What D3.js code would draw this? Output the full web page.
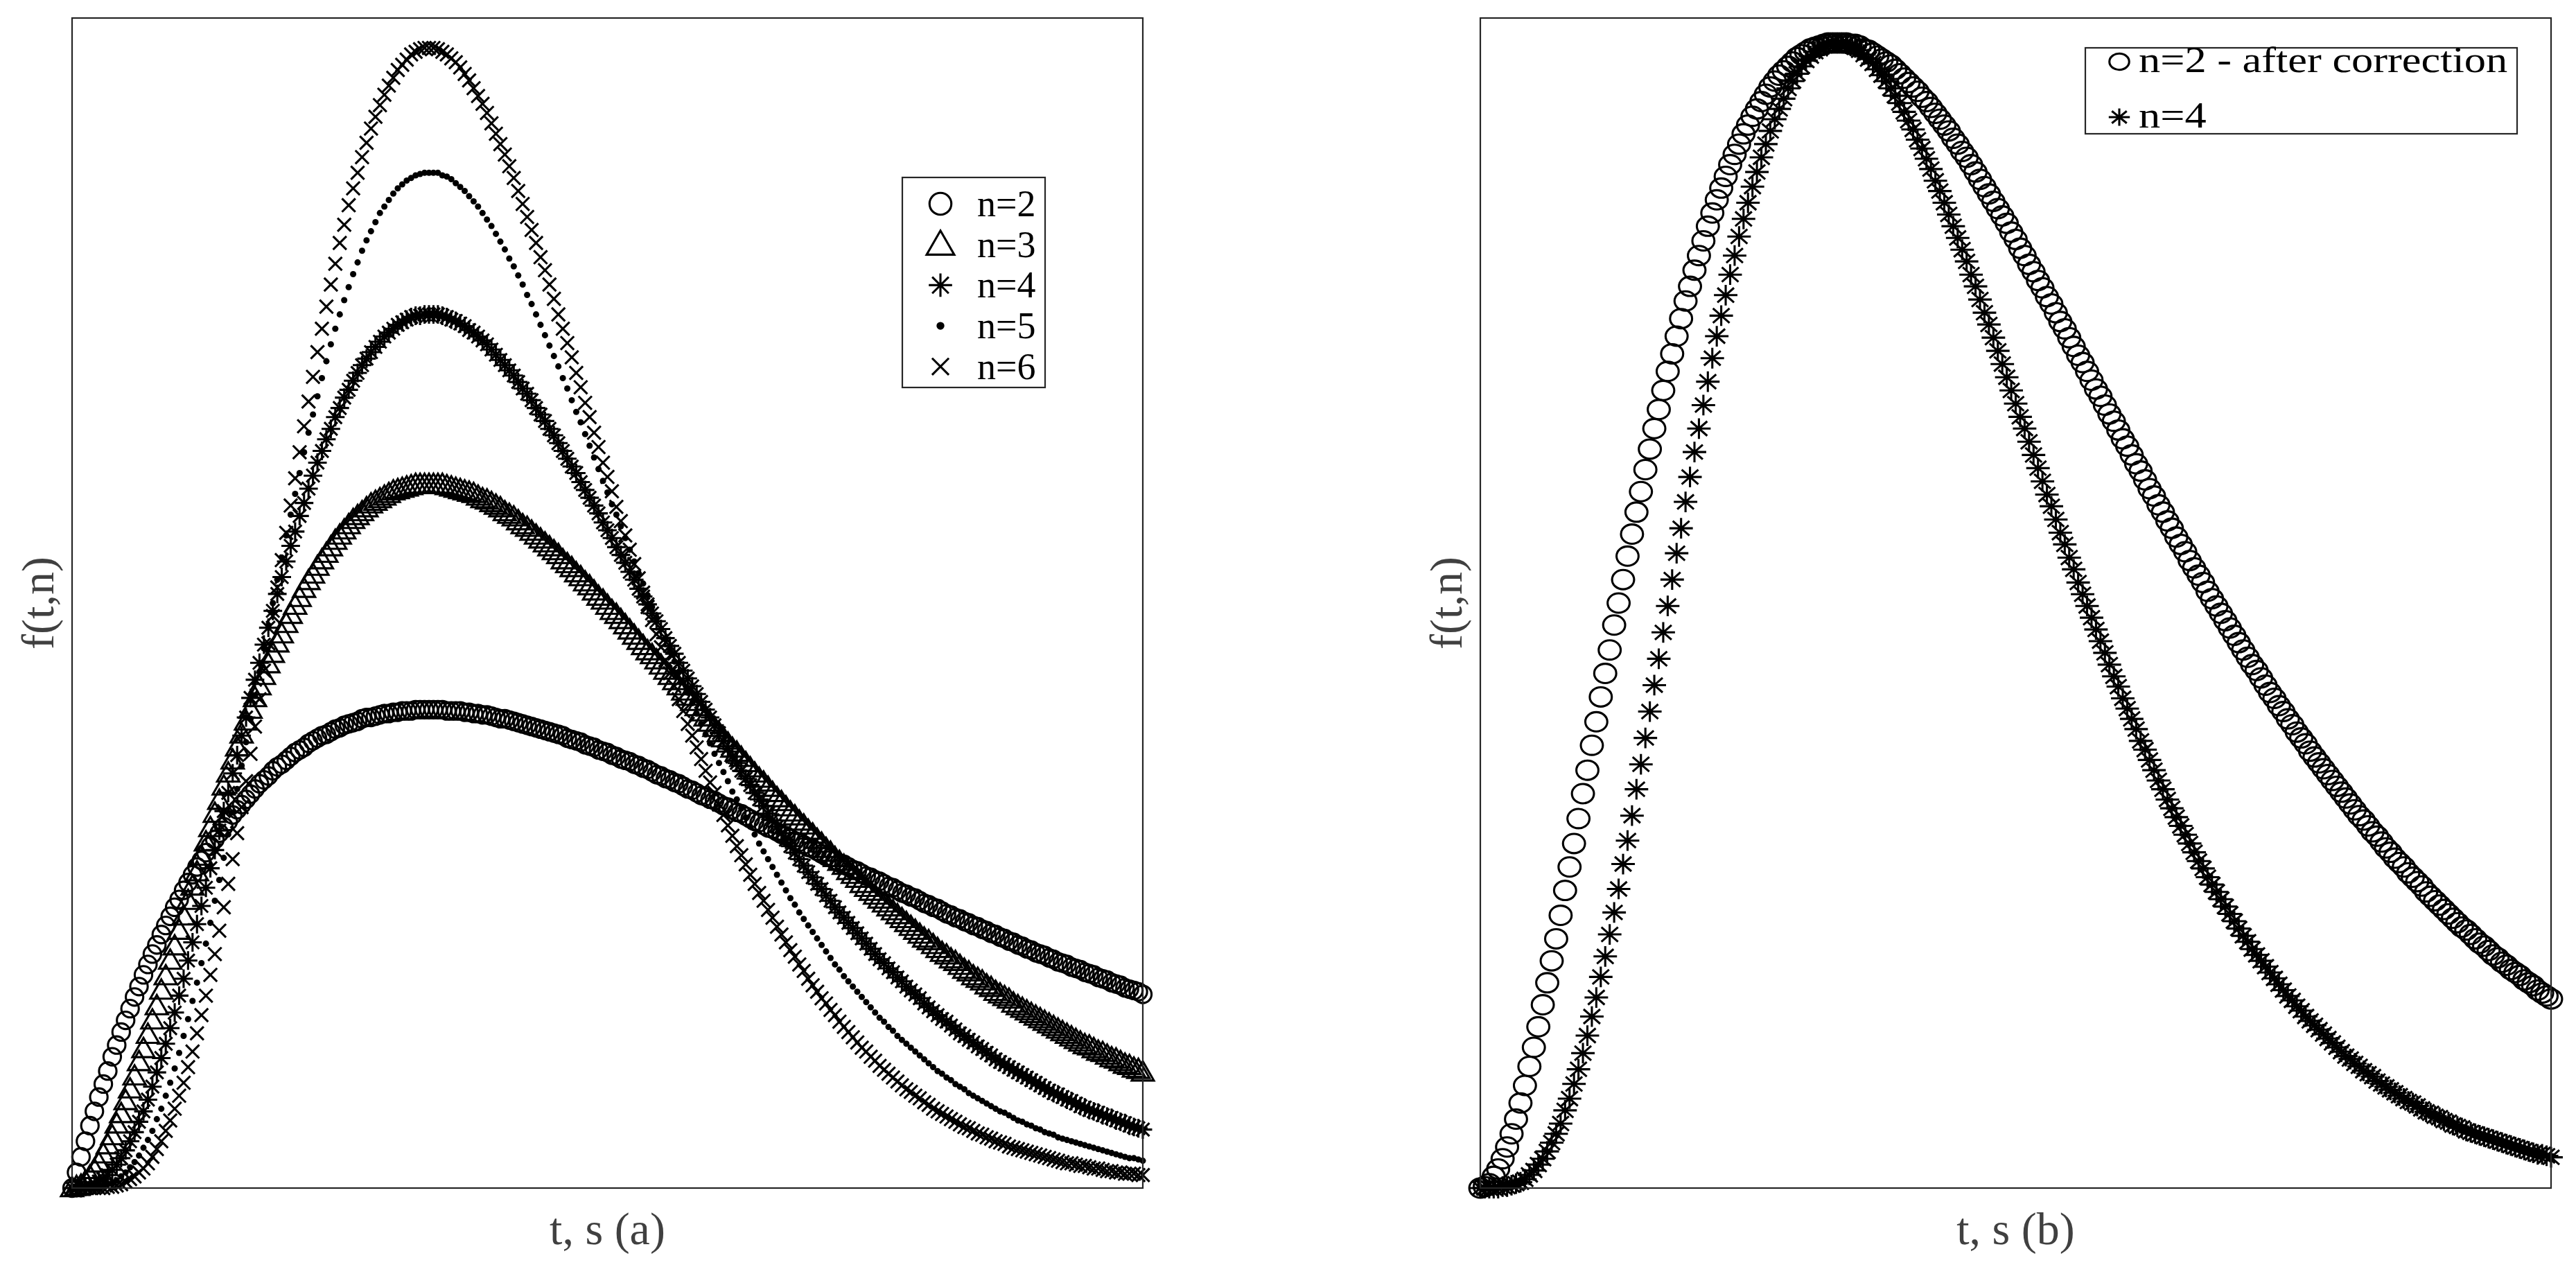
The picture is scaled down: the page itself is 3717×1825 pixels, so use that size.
<!DOCTYPE html>
<html>
<head>
<meta charset="utf-8">
<title>f(t,n)</title>
<script src="https://d3js.org/d3.v7.min.js"></script>
<style>
html, body { margin: 0; padding: 0; background: #fff; }
svg { display: block; }
</style>
</head>
<body>
<div id="chart"></div>
<script>
// time samples: main grid (step 0.025) and the in-between samples
var tValues = [0, 0.025, 0.05, 0.075, 0.1, 0.125, 0.15, 0.175, 0.2, 0.225, 0.25, 0.275, 0.3, 0.325, 0.35, 0.375, 0.4, 0.425, 0.45, 0.475, 0.5,
  0.525, 0.55, 0.575, 0.6, 0.625, 0.65, 0.675, 0.7, 0.725, 0.75, 0.775, 0.8, 0.825, 0.85, 0.875, 0.9, 0.925, 0.95, 0.975, 1,
  1.025, 1.05, 1.075, 1.1, 1.125, 1.15, 1.175, 1.2, 1.225, 1.25, 1.275, 1.3, 1.325, 1.35, 1.375, 1.4, 1.425, 1.45, 1.475, 1.5,
  1.525, 1.55, 1.575, 1.6, 1.625, 1.65, 1.675, 1.7, 1.725, 1.75, 1.775, 1.8, 1.825, 1.85, 1.875, 1.9, 1.925, 1.95, 1.975, 2,
  2.025, 2.05, 2.075, 2.1, 2.125, 2.15, 2.175, 2.2, 2.225, 2.25, 2.275, 2.3, 2.325, 2.35, 2.375, 2.4, 2.425, 2.45, 2.475, 2.5,
  2.525, 2.55, 2.575, 2.6, 2.625, 2.65, 2.675, 2.7, 2.725, 2.75, 2.775, 2.8, 2.825, 2.85, 2.875, 2.9, 2.925, 2.95, 2.975, 3];
var tShift = [0.0125, 0.0375, 0.0625, 0.0875, 0.1125, 0.1375, 0.1625, 0.1875, 0.2125, 0.2375, 0.2625, 0.2875, 0.3125, 0.3375, 0.3625, 0.3875, 0.4125, 0.4375, 0.4625, 0.4875,
  0.5125, 0.5375, 0.5625, 0.5875, 0.6125, 0.6375, 0.6625, 0.6875, 0.7125, 0.7375, 0.7625, 0.7875, 0.8125, 0.8375, 0.8625, 0.8875, 0.9125, 0.9375, 0.9625, 0.9875,
  1.0125, 1.0375, 1.0625, 1.0875, 1.1125, 1.1375, 1.1625, 1.1875, 1.2125, 1.2375, 1.2625, 1.2875, 1.3125, 1.3375, 1.3625, 1.3875, 1.4125, 1.4375, 1.4625, 1.4875,
  1.5125, 1.5375, 1.5625, 1.5875, 1.6125, 1.6375, 1.6625, 1.6875, 1.7125, 1.7375, 1.7625, 1.7875, 1.8125, 1.8375, 1.8625, 1.8875, 1.9125, 1.9375, 1.9625, 1.9875,
  2.0125, 2.0375, 2.0625, 2.0875, 2.1125, 2.1375, 2.1625, 2.1875, 2.2125, 2.2375, 2.2625, 2.2875, 2.3125, 2.3375, 2.3625, 2.3875, 2.4125, 2.4375, 2.4625, 2.4875,
  2.5125, 2.5375, 2.5625, 2.5875, 2.6125, 2.6375, 2.6625, 2.6875, 2.7125, 2.7375, 2.7625, 2.7875, 2.8125, 2.8375, 2.8625, 2.8875, 2.9125, 2.9375, 2.9625, 2.9875];

// panel (a): values on tValues, then on tShift
var fN2 = [0, .024, .048, .070, .090, .110, .129, .147, .164, .180, .195, .209, .222, .235, .247, .258, .268, .278, .287, .295, .303,
  .311, .317, .324, .329, .335, .339, .344, .348, .351, .354, .357, .359, .362, .363, .365, .366, .367, .367, .368, .368,
  .368, .367, .367, .366, .365, .364, .363, .361, .360, .358, .356, .354, .352, .350, .348, .345, .343, .340, .337, .335,
  .332, .329, .326, .323, .320, .317, .314, .311, .307, .304, .301, .298, .294, .291, .288, .284, .281, .277, .274, .271,
  .267, .264, .261, .257, .254, .250, .247, .244, .240, .237, .234, .231, .227, .224, .221, .218, .215, .211, .208, .205,
  .202, .199, .196, .193, .190, .187, .184, .181, .179, .176, .173, .170, .168, .165, .162, .160, .157, .154, .152, .149];
var fN2s = [.012, .036, .059, .080, .101, .120, .138, .155, .172, .187, .202, .216, .229, .241, .252, .263, .273, .282, .291, .299,
  .307, .314, .321, .326, .332, .337, .342, .346, .349, .353, .356, .358, .361, .362, .364, .365, .366, .367, .368, .368,
  .368, .368, .367, .367, .366, .365, .364, .362, .361, .359, .357, .355, .353, .351, .349, .346, .344, .341, .339, .336,
  .333, .330, .328, .325, .322, .318, .315, .312, .309, .306, .302, .299, .296, .293, .289, .286, .282, .279, .276, .272,
  .269, .266, .262, .259, .255, .252, .249, .245, .242, .239, .236, .232, .229, .226, .223, .219, .216, .213, .210, .207,
  .204, .201, .198, .195, .192, .189, .186, .183, .180, .177, .174, .172, .169, .166, .164, .161, .158, .156, .153, .151];
var fN3 = [0, .002, .009, .019, .033, .049, .067, .086, .107, .129, .152, .175, .198, .221, .243, .266, .288, .309, .329, .349, .368,
  .386, .403, .419, .434, .448, .461, .472, .483, .493, .502, .510, .517, .523, .528, .532, .536, .538, .540, .541, .541,
  .541, .540, .538, .536, .534, .530, .527, .523, .518, .513, .508, .502, .496, .490, .483, .477, .470, .463, .455, .448,
  .441, .433, .425, .417, .410, .402, .394, .386, .378, .370, .362, .354, .346, .338, .331, .323, .315, .308, .300, .293,
  .286, .279, .272, .265, .258, .251, .244, .238, .231, .225, .219, .213, .207, .201, .195, .190, .184, .179, .174, .168,
  .163, .159, .154, .149, .145, .140, .136, .132, .128, .124, .120, .116, .112, .109, .105, .102, .099, .095, .092, .089];
var fN3s = [.001, .005, .014, .026, .040, .057, .076, .097, .118, .140, .163, .186, .209, .232, .255, .277, .298, .319, .339, .359,
  .377, .394, .411, .426, .441, .454, .467, .478, .488, .498, .506, .514, .520, .526, .530, .534, .537, .539, .541, .541,
  .541, .541, .539, .537, .535, .532, .529, .525, .520, .516, .510, .505, .499, .493, .487, .480, .473, .466, .459, .452,
  .444, .437, .429, .421, .413, .406, .398, .390, .382, .374, .366, .358, .350, .342, .335, .327, .319, .312, .304, .297,
  .289, .282, .275, .268, .261, .254, .248, .241, .234, .228, .222, .216, .210, .204, .198, .192, .187, .181, .176, .171,
  .166, .161, .156, .151, .147, .142, .138, .134, .130, .126, .122, .118, .114, .110, .107, .104, .100, .097, .094, .091];
var fN4 = [0, 0, .001, .005, .010, .018, .029, .043, .059, .078, .100, .123, .148, .175, .203, .231, .260, .290, .319, .348, .377,
  .404, .431, .457, .482, .505, .527, .548, .567, .584, .600, .614, .627, .638, .647, .655, .661, .666, .670, .671, .672,
  .672, .670, .667, .663, .658, .652, .645, .637, .629, .620, .611, .600, .590, .579, .567, .555, .543, .531, .519, .506,
  .493, .481, .468, .455, .442, .430, .417, .404, .392, .380, .368, .356, .344, .332, .321, .310, .299, .288, .278, .268,
  .258, .248, .239, .230, .221, .212, .204, .196, .188, .180, .173, .166, .159, .152, .146, .139, .133, .128, .122, .117,
  .112, .107, .102, .097, .093, .089, .085, .081, .077, .073, .070, .067, .063, .060, .058, .055, .052, .050, .047, .045];
var fN4s = [0, .001, .003, .007, .014, .023, .036, .051, .068, .089, .111, .135, .161, .189, .217, .246, .275, .304, .333, .362,
  .391, .418, .444, .470, .494, .517, .538, .558, .576, .593, .608, .621, .633, .643, .651, .658, .664, .668, .671, .672,
  .672, .671, .668, .665, .660, .655, .649, .641, .633, .625, .615, .606, .595, .584, .573, .561, .550, .537, .525, .512,
  .500, .487, .474, .461, .449, .436, .423, .411, .398, .386, .374, .362, .350, .338, .327, .315, .304, .294, .283, .273,
  .263, .253, .243, .234, .225, .216, .208, .200, .192, .184, .176, .169, .162, .155, .149, .142, .136, .130, .125, .119,
  .114, .109, .104, .099, .095, .091, .087, .083, .079, .075, .072, .068, .065, .062, .059, .056, .054, .051, .048, .046];
var fN5 = [0, 0, 0, .001, .003, .006, .012, .020, .031, .044, .061, .081, .104, .130, .158, .188, .221, .254, .289, .325, .361,
  .397, .433, .468, .502, .534, .566, .595, .623, .649, .672, .693, .712, .729, .743, .755, .765, .772, .777, .780, .781,
  .781, .778, .773, .767, .759, .750, .740, .728, .715, .702, .687, .672, .656, .640, .623, .606, .589, .571, .553, .535,
  .518, .500, .482, .465, .447, .430, .413, .397, .381, .365, .349, .334, .320, .305, .292, .278, .265, .253, .241, .229,
  .218, .207, .197, .187, .177, .168, .159, .151, .143, .135, .128, .121, .114, .108, .102, .096, .090, .085, .080, .076,
  .071, .067, .063, .059, .056, .052, .049, .046, .043, .041, .038, .036, .034, .032, .030, .028, .026, .024, .023, .021];
var fN5s = [0, 0, .001, .002, .004, .009, .016, .025, .037, .053, .071, .092, .117, .144, .173, .204, .237, .272, .307, .343,
  .379, .415, .450, .485, .518, .550, .581, .609, .636, .661, .683, .703, .721, .736, .750, .760, .769, .775, .779, .781,
  .781, .779, .776, .770, .763, .755, .745, .734, .722, .709, .695, .680, .664, .648, .632, .615, .597, .580, .562, .544,
  .526, .509, .491, .473, .456, .439, .422, .405, .389, .373, .357, .342, .327, .313, .299, .285, .272, .259, .247, .235,
  .223, .212, .202, .192, .182, .172, .163, .155, .147, .139, .131, .124, .117, .111, .105, .099, .093, .088, .083, .078,
  .073, .069, .065, .061, .058, .054, .051, .048, .045, .042, .039, .037, .035, .033, .031, .029, .027, .025, .023, .022];
var fN6 = [0, 0, 0, 0, .001, .002, .005, .009, .015, .024, .036, .052, .071, .093, .119, .148, .180, .216, .253, .293, .334,
  .376, .419, .462, .504, .546, .586, .624, .661, .695, .727, .756, .781, .804, .824, .841, .854, .864, .872, .876, .877,
  .876, .872, .866, .857, .846, .834, .819, .803, .786, .767, .747, .727, .706, .684, .661, .639, .616, .593, .570, .547,
  .524, .502, .480, .458, .437, .416, .396, .376, .357, .339, .321, .304, .287, .271, .256, .241, .227, .214, .201, .189,
  .178, .167, .156, .146, .137, .128, .120, .112, .105, .098, .091, .085, .079, .074, .069, .064, .059, .055, .051, .047,
  .044, .041, .038, .035, .032, .030, .028, .026, .024, .022, .020, .019, .017, .016, .015, .013, .012, .011, .011, .010];
var fN6s = [0, 0, 0, 0, .001, .003, .007, .012, .019, .030, .044, .061, .081, .105, .133, .164, .198, .234, .273, .313,
  .355, .398, .440, .483, .525, .566, .605, .643, .678, .711, .741, .769, .793, .815, .833, .848, .860, .868, .874, .877,
  .877, .874, .869, .862, .852, .840, .827, .811, .795, .777, .757, .737, .716, .695, .672, .650, .627, .604, .581, .558,
  .536, .513, .491, .469, .447, .426, .406, .386, .367, .348, .330, .312, .295, .279, .263, .249, .234, .221, .208, .195,
  .183, .172, .161, .151, .142, .133, .124, .116, .108, .101, .094, .088, .082, .076, .071, .066, .061, .057, .053, .049,
  .046, .042, .039, .036, .034, .031, .029, .027, .025, .023, .021, .019, .018, .017, .015, .014, .013, .012, .011, .010];

// panel (b)
var fN2corr = [0, .003, .013, .028, .047, .070, .096, .125, .155, .186, .219, .252, .285, .318, .351, .384, .415, .446, .475, .504, .531,
  .557, .581, .605, .626, .646, .665, .682, .698, .712, .725, .736, .746, .755, .762, .768, .773, .777, .779, .781, .781,
  .781, .780, .777, .774, .770, .766, .760, .754, .748, .741, .733, .725, .716, .707, .698, .688, .678, .668, .658, .647,
  .636, .625, .614, .603, .591, .580, .568, .557, .545, .534, .523, .511, .500, .489, .477, .466, .455, .444, .434, .423,
  .413, .402, .392, .382, .372, .362, .353, .343, .334, .325, .316, .307, .298, .290, .282, .274, .266, .258, .251, .243,
  .236, .229, .222, .215, .209, .202, .196, .190, .184, .178, .173, .167, .162, .157, .152, .147, .142, .138, .133, .129];
var fN2corrS = [.001, .008, .020, .037, .058, .083, .110, .140, .170, .203, .235, .269, .302, .335, .367, .399, .431, .461, .490, .518,
  .544, .569, .593, .615, .636, .656, .674, .690, .705, .719, .731, .741, .751, .759, .765, .771, .775, .778, .780, .781,
  .781, .780, .779, .776, .772, .768, .763, .757, .751, .744, .737, .729, .721, .712, .703, .693, .683, .673, .663, .652,
  .641, .630, .619, .608, .597, .586, .574, .563, .551, .540, .528, .517, .506, .494, .483, .472, .461, .450, .439, .428,
  .418, .407, .397, .387, .377, .367, .357, .348, .338, .329, .320, .311, .303, .294, .286, .278, .270, .262, .254, .247,
  .240, .232, .225, .219, .212, .206, .199, .193, .187, .181, .176, .170, .165, .159, .154, .149, .145, .140, .135, .131];
var fN4b = [0, 0, 0, .001, .003, .006, .012, .020, .031, .044, .061, .081, .104, .130, .158, .188, .221, .254, .289, .325, .361,
  .397, .433, .468, .502, .534, .566, .595, .623, .649, .672, .693, .712, .729, .743, .755, .765, .772, .777, .780, .781,
  .781, .778, .773, .767, .759, .750, .740, .728, .715, .702, .687, .672, .656, .640, .623, .606, .589, .571, .553, .535,
  .518, .500, .482, .465, .447, .430, .413, .397, .381, .365, .349, .334, .320, .305, .292, .278, .265, .253, .241, .229,
  .218, .207, .197, .187, .177, .168, .159, .151, .143, .135, .128, .121, .114, .108, .102, .096, .090, .085, .080, .076,
  .071, .067, .063, .059, .056, .052, .049, .046, .043, .041, .038, .036, .034, .032, .030, .028, .026, .024, .023, .021];
var fN4bS = [0, 0, .001, .002, .004, .009, .016, .025, .037, .053, .071, .092, .117, .144, .173, .204, .237, .272, .307, .343,
  .379, .415, .450, .485, .518, .550, .581, .609, .636, .661, .683, .703, .721, .736, .750, .760, .769, .775, .779, .781,
  .781, .779, .776, .770, .763, .755, .745, .734, .722, .709, .695, .680, .664, .648, .632, .615, .597, .580, .562, .544,
  .526, .509, .491, .473, .456, .439, .422, .405, .389, .373, .357, .342, .327, .313, .299, .285, .272, .259, .247, .235,
  .223, .212, .202, .192, .182, .172, .163, .155, .147, .139, .131, .124, .117, .111, .105, .099, .093, .088, .083, .078,
  .073, .069, .065, .061, .058, .054, .051, .048, .045, .042, .039, .037, .035, .033, .031, .029, .027, .025, .023, .022];

var labelsA = ["n=2", "n=3", "n=4", "n=5", "n=6"];
var markersA = ["circle", "triangle", "asterisk", "dot", "cross"];
var labelsB = ["n=2 - after correction", "n=4"];
var markersB = ["circle", "asterisk"];

var W = 3717, H = 1825;
var plotTop = 26, plotBottom = 1714;

var svg = d3.select("#chart").append("svg")
    .attr("width", W)
    .attr("height", H)
    .style("background", "#fff");

// draws one marker shape inside g (centred on 0,0), sx/sy stretch it
function drawMarker(g, type, sx, sy) {
  var sw = 3.1;
  if (type === "circle") {
    g.append("ellipse").attr("rx", 15 * sx).attr("ry", 15 * sy)
      .attr("fill", "none").attr("stroke", "#000").attr("stroke-width", sw);
  } else if (type === "dot") {
    g.append("ellipse").attr("rx", 5.4 * sx).attr("ry", 5.4 * sy).attr("fill", "#000");
  } else {
    var p = d3.path();
    if (type === "triangle") {
      p.moveTo(0, -19 * sy); p.lineTo(19 * sx, 14 * sy); p.lineTo(-19 * sx, 14 * sy); p.closePath();
    } else if (type === "asterisk") {
      p.moveTo(-16 * sx, 0); p.lineTo(16 * sx, 0);
      p.moveTo(0, -16 * sy); p.lineTo(0, 16 * sy);
      p.moveTo(-11.3 * sx, -11.3 * sy); p.lineTo(11.3 * sx, 11.3 * sy);
      p.moveTo(-11.3 * sx, 11.3 * sy); p.lineTo(11.3 * sx, -11.3 * sy);
    } else if (type === "cross") {
      p.moveTo(-11.5 * sx, -11.5 * sy); p.lineTo(11.5 * sx, 11.5 * sy);
      p.moveTo(-11.5 * sx, 11.5 * sy); p.lineTo(11.5 * sx, -11.5 * sy);
    }
    g.append("path").attr("d", p.toString())
      .attr("fill", "none").attr("stroke", "#000").attr("stroke-width", sw)
      .attr("stroke-linejoin", "miter");
  }
}

var panels = [
  { x0: 104, x1: 1649, yMax: 0.9, xLabel: "t, s (a)", yLabelX: 77,
    series: [[fN2, fN2s], [fN3, fN3s], [fN4, fN4s], [fN5, fN5s], [fN6, fN6s]],
    markers: markersA, msx: 0.84, msy: 0.84 },
  { x0: 2136, x1: 3681, yMax: 0.798, xLabel: "t, s (b)", yLabelX: 2109,
    series: [[fN2corr, fN2corrS], [fN4b, fN4bS]],
    markers: markersB, msx: 1.06, msy: 0.93 }
];

panels.forEach(function(pn) {
  var x = d3.scaleLinear().domain([0, 3]).range([pn.x0, pn.x1]);
  var y = d3.scaleLinear().domain([0, pn.yMax]).range([plotBottom, plotTop]);

  var plot = svg.append("g");
  pn.series.forEach(function(pair, si) {
    var pts = tValues.map(function(t, i) { return [t, pair[0][i]]; })
      .concat(tShift.map(function(t, i) { return [t, pair[1][i]]; }))
      .sort(function(a, b) { return a[0] - b[0]; });
    plot.append("g").selectAll("g")
      .data(pts)
      .join("g")
        .attr("transform", function(d) { return "translate(" + x(d[0]) + "," + y(d[1]) + ")"; })
        .each(function() { drawMarker(d3.select(this), pn.markers[si], pn.msx, pn.msy); });
  });

  // frame
  svg.append("rect")
    .attr("x", pn.x0).attr("y", plotTop)
    .attr("width", pn.x1 - pn.x0).attr("height", plotBottom - plotTop)
    .attr("fill", "none").attr("stroke", "#262626").attr("stroke-width", 2.2);

  svg.append("text")
    .attr("x", (pn.x0 + pn.x1) / 2).attr("y", 1795)
    .attr("text-anchor", "middle")
    .attr("font-family", "'Liberation Serif', 'Times New Roman', serif")
    .attr("font-size", 66).attr("fill", "#404040")
    .text(pn.xLabel);

  svg.append("text")
    .attr("transform", "translate(" + pn.yLabelX + "," + ((plotTop + plotBottom) / 2) + ") rotate(-90)")
    .attr("text-anchor", "middle")
    .attr("font-family", "'Liberation Serif', 'Times New Roman', serif")
    .attr("font-size", 66).attr("fill", "#404040")
    .text("f(t,n)");
});

// legend (a)
var legA = svg.append("g");
legA.append("rect").attr("x", 1302).attr("y", 256).attr("width", 206).attr("height", 303)
  .attr("fill", "#fff").attr("stroke", "#262626").attr("stroke-width", 2.2);
labelsA.forEach(function(lab, i) {
  var base = 312 + i * 58.7;
  var g = legA.append("g").attr("transform", "translate(1357," + (base - 18) + ")");
  drawMarker(g, markersA[i], 1.05, 1.05);
  legA.append("text").attr("x", 1410).attr("y", base)
    .attr("font-family", "'Liberation Serif', 'Times New Roman', serif")
    .attr("font-size", 54).attr("fill", "#000").text(lab);
});

// legend (b)
var legB = svg.append("g");
legB.append("rect").attr("x", 3009).attr("y", 69).attr("width", 623).attr("height", 124)
  .attr("fill", "#fff").attr("stroke", "#262626").attr("stroke-width", 2.2);
labelsB.forEach(function(lab, i) {
  var base = 104 + i * 80;
  var g = legB.append("g").attr("transform", "translate(3058," + (base - 15) + ")");
  drawMarker(g, markersB[i], 0.95, 0.78);
  legB.append("text")
    .attr("transform", "translate(3086," + base + ") scale(1.2,1)")
    .attr("font-family", "'Liberation Serif', 'Times New Roman', serif")
    .attr("font-size", 52).attr("fill", "#000").text(lab);
});
</script>
</body>
</html>
